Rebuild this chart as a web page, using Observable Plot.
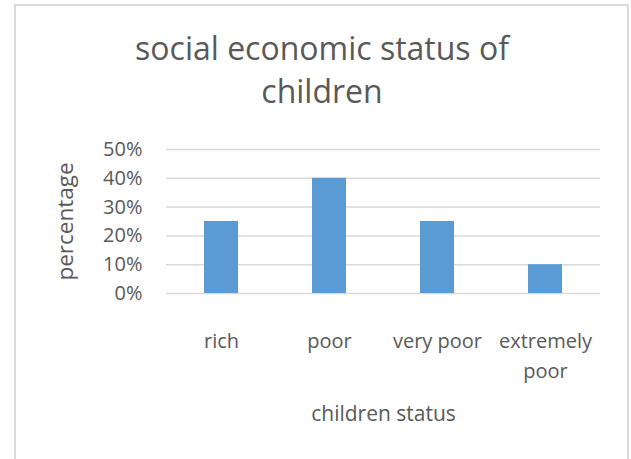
<!DOCTYPE html>
<html>
<head>
<meta charset="utf-8">
<script src="https://cdn.jsdelivr.net/npm/d3@7"></script>
<script src="https://cdn.jsdelivr.net/npm/@observablehq/plot@0.6"></script>
<style>
  html, body { margin: 0; padding: 0; background: #fff; }
  #page { position: relative; width: 631px; height: 459px; overflow: hidden; font-family: "Open Sans", sans-serif; color: #595959; }
  #frame { position: absolute; left: 14px; top: 4px; width: 615px; height: 480px; border: 2px solid #d9d9d9; box-sizing: border-box; }
  #title { position: absolute; left: 15px; width: 614px; top: 26px; text-align: center; font-size: 32px; line-height: 43.4px; color: #595959; }
  #chart { position: absolute; left: 0; top: 120px; }
</style>
</head>
<body>
<div id="page">
  <div id="frame"></div>
  <div id="title">social economic status of<br>children</div>
  <div id="chart"></div>
</div>
<script>
// Share of children in each socio-economic group
const categories = ["rich", "poor", "very poor", "extremely poor"];
const shares = [0.25, 0.40, 0.25, 0.10];
const yTicks = [0, 0.1, 0.2, 0.3, 0.4, 0.5];

const rows = categories.map((status, i) => ({status, share: shares[i]}));
const textColor = "#595959";

const chart = Plot.plot({
  width: 631,
  height: 339,
  marginTop: 29,
  marginBottom: 166,
  marginLeft: 166,
  marginRight: 31,
  style: {fontFamily: "Open Sans, sans-serif", color: textColor, background: "transparent", overflow: "visible"},
  x: {domain: categories, paddingInner: 0.687, paddingOuter: 0.3435, label: null},
  y: {domain: [0, 0.5], label: null},
  marks: [
    Plot.ruleY(yTicks, {stroke: "#d9d9d9", strokeWidth: 1.5}),
    Plot.barY(rows, {x: "status", y: "share", fill: "#5b9bd5"}),
    Plot.axisY({
      ticks: yTicks, tickFormat: d3.format(".0%"), tickSize: 0, tickPadding: 24,
      fontSize: 20, fill: textColor, label: null
    }),
    Plot.axisX({
      tickSize: 0, tickPadding: 33, fontSize: 20, fill: textColor,
      lineWidth: 5.5, lineHeight: 1.5, label: null
    }),
    Plot.text(["percentage"], {
      frameAnchor: "left", textAnchor: "middle", lineAnchor: "middle",
      rotate: -90, dx: -101, fontSize: 22.5, fill: textColor
    }),
    Plot.text(["children status"], {
      frameAnchor: "bottom", textAnchor: "middle", lineAnchor: "middle",
      dy: 121, fontSize: 21, fill: textColor
    })
  ]
});

document.getElementById("chart").appendChild(chart);
</script>
</body>
</html>
